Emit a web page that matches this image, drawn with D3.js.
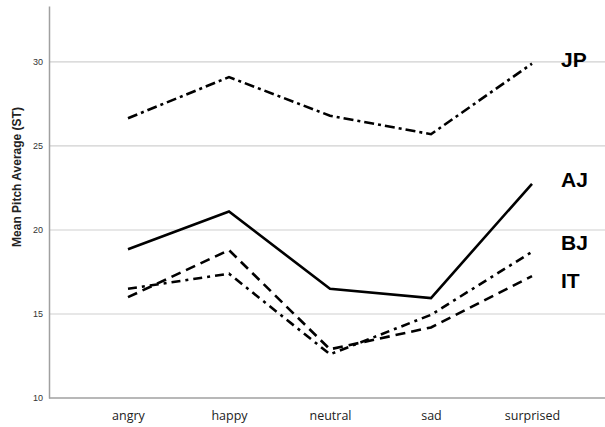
<!DOCTYPE html>
<html>
<head>
<meta charset="utf-8">
<script src="https://cdn.jsdelivr.net/npm/d3@7"></script>
<style>
  body { margin: 0; background: #fff; }
</style>
</head>
<body>
<div id="chart-area"></div>
<script>
// emotions on the x axis
let emotions = ["angry", "happy", "neutral", "sad", "surprised"];

// mean pitch average (ST) per group
let jpValues = [26.65, 29.1, 26.8, 25.7, 29.9];
let ajValues = [18.85, 21.1, 16.5, 15.95, 22.75];
let bjValues = [16.5, 17.4, 12.6, 14.95, 18.7];
let itValues = [16.0, 18.8, 12.9, 14.2, 17.25];

let seriesNames = ["JP", "AJ", "BJ", "IT"];
let yTicks = [10, 15, 20, 25, 30];

let width = 605, height = 427;

let svgCanvas = d3.select("#chart-area")
                    .append("svg")
                    .attr("width", width)
                    .attr("height", height)

let x = d3.scalePoint()
            .domain(emotions)
            .range([128, 532])

let y = d3.scaleLinear()
            .domain([10, 33.33])
            .range([398, 6])

// gridlines
svgCanvas.selectAll("line.grid")
    .data(yTicks.filter(t => t > 10))
    .enter().append("line")
    .attr("class", "grid")
    .attr("x1", 49)
    .attr("x2", width)
    .attr("y1", d => y(d))
    .attr("y2", d => y(d))
    .attr("stroke", "#d0d0d0")
    .attr("stroke-width", 1.2)

// y axis
let yAxis = svgCanvas.append("g")
    .attr("transform", "translate(49,0)")
    .call(d3.axisLeft(y).tickValues(yTicks).tickSize(0).tickPadding(6))
yAxis.select(".domain").attr("stroke", "#a0a0a0").attr("stroke-width", 1.5)
yAxis.selectAll("text")
    .attr("font-family", "Liberation Sans, Arial, sans-serif")
    .attr("font-size", 9)
    .attr("fill", "#333")

// x axis
let xAxis = svgCanvas.append("g")
    .attr("transform", "translate(0,398)")
    .call(d3.axisBottom(x).tickSize(0).tickPadding(13))
xAxis.select(".domain")
    .attr("d", "M49,0H" + width)
    .attr("stroke", "#a0a0a0")
    .attr("stroke-width", 1.5)
xAxis.selectAll("text")
    .attr("font-family", "Open Sans, Liberation Sans, sans-serif")
    .attr("font-size", 12.5)
    .attr("fill", "#222")

// axis title
svgCanvas.append("text")
    .attr("transform", "translate(21,177) rotate(-90)")
    .attr("text-anchor", "middle")
    .attr("font-family", "Liberation Sans, Arial, sans-serif")
    .attr("font-weight", "bold")
    .attr("font-size", 12)
    .attr("fill", "#222")
    .text("Mean Pitch Average (ST)")

// lines
let allSeries = [jpValues, ajValues, bjValues, itValues];
let dashes = ["10,4,3,4", null, "9,5,3,5", "10,6"];

let line = d3.line()
    .x((d, i) => x(emotions[i]))
    .y(d => y(d))

svgCanvas.selectAll("path.series")
    .data(allSeries)
    .enter().append("path")
    .attr("class", "series")
    .attr("d", d => line(d))
    .attr("fill", "none")
    .attr("stroke", "#000")
    .attr("stroke-width", 2.6)
    .attr("stroke-dasharray", (d, i) => dashes[i])

// series labels
let labelY = [67, 187, 250, 288];
svgCanvas.selectAll("text.label")
    .data(seriesNames)
    .enter().append("text")
    .attr("class", "label")
    .attr("x", 561)
    .attr("y", (d, i) => labelY[i])
    .attr("font-family", "Liberation Sans, Arial, sans-serif")
    .attr("font-weight", "bold")
    .attr("font-size", 21)
    .attr("fill", "#000")
    .text(d => d)
</script>
</body>
</html>
